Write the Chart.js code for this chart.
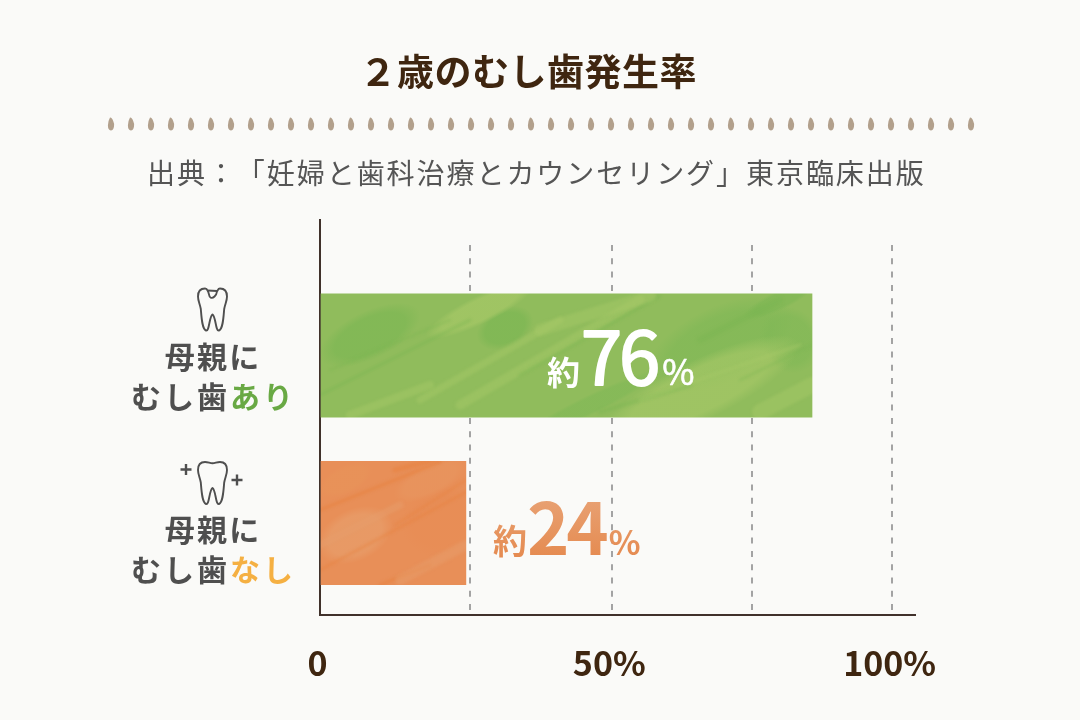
<!DOCTYPE html>
<html lang="ja">
<head>
<meta charset="utf-8">
<title>2歳のむし歯発生率</title>
<style>
html,body{margin:0;padding:0;background:#fafaf8;width:1080px;height:720px;overflow:hidden}
canvas{display:block}
</style>
<script src="https://cdn.jsdelivr.net/npm/chart.js@4"></script>
</head>
<body>
<canvas id="c" width="1080" height="720"></canvas>
<script>
const chartTitle = "２歳のむし歯発生率";
const sourceParts = ["出典：", "「妊婦と歯科治療とカウンセリング」", "東京臨床出版"];
const categories = ["母親にむし歯あり", "母親にむし歯なし"];
const barValues = [86, 25.5];
const valueLabels = ["76", "24"];
const tickValues = [0, 26.2, 51, 75.5, 100];
const tickLabels = ["0", "", "50%", "", "100%"];
const labelLine1 = ["母親に", "母親に"];
const labelLine2 = ["むし歯", "むし歯"];
const labelAccent = ["あり", "なし"];

const FONT = '"Noto Sans CJK JP"';
const BROWN = "#3f2610", GREY = "#4f4f4f";

function texture(base, strokes, blobs) {
  const cv = document.createElement("canvas");
  cv.width = 1080; cv.height = 720;
  const g = cv.getContext("2d");
  g.fillStyle = base; g.fillRect(0, 0, 1080, 720);
  blobs.forEach(([x, y, rx, ry, col]) => {
    const r = g.createRadialGradient(0, 0, 0, 0, 0, 1);
    r.addColorStop(0, col); r.addColorStop(.7, col); r.addColorStop(1, col.replace(/[\d.]+\)$/, "0)"));
    g.save(); g.translate(x, y); g.rotate(-0.45); g.scale(rx, ry);
    g.fillStyle = r; g.beginPath(); g.arc(0, 0, 1, 0, 7); g.fill(); g.restore();
  });
  g.lineCap = "round";
  g.filter = "blur(1.6px)";
  strokes.forEach(([x1, y1, x2, y2, w, col]) => {
    g.strokeStyle = col; g.lineWidth = w;
    g.beginPath(); g.moveTo(x1, y1); g.lineTo(x2, y2); g.stroke();
  });
  g.filter = "none";
  return g.createPattern(cv, "no-repeat");
}
const LG = "rgba(170,202,104,.42)", DG = "rgba(122,182,80,.42)";
const greenFill = texture("#90bc5c", [
  [320,395,470,320,3,DG],[330,370,450,320,2,DG],[420,400,560,320,7,LG],[460,405,640,300,9,LG],
  [520,375,660,296,3,DG],[540,330,650,296,12,LG],[600,412,690,385,4,DG],[640,400,800,345,3,LG],
  [740,380,812,345,2,DG],[700,340,780,300,6,DG],[760,412,812,385,16,LG],[350,415,430,385,8,LG]
], [
  [370,335,55,24,"rgba(122,182,82,.6)"],[505,328,30,20,"rgba(122,182,82,.65)"],
  [480,310,60,14,"rgba(170,202,104,.6)"],[720,345,80,38,"rgba(128,184,86,.65)"],
  [790,340,30,34,"rgba(128,184,86,.6)"],[700,390,110,30,"rgba(165,199,102,.7)"],
  [780,300,40,10,"rgba(122,182,82,.5)"],[590,405,80,10,"rgba(128,184,86,.6)"]
]);
const LO = "rgba(232,158,108,.5)", DO = "rgba(232,128,60,.5)";
const orangeFill = texture("#e88f58", [
  [320,510,440,462,3,DO],[395,470,470,450,5,DO],[395,525,466,480,2,DO],[320,570,470,490,2,DO],
  [380,585,430,565,3,DO],[320,545,400,505,7,LO],[400,580,466,545,10,LO]
], [
  [355,535,40,26,"rgba(232,162,112,.55)"],[440,520,40,36,"rgba(232,140,84,.5)"],
  [430,480,40,16,"rgba(232,150,96,.6)"],[345,480,30,14,"rgba(232,150,90,.4)"]
]);
const orangeText = (() => {
  const cv = document.createElement("canvas"); cv.width = 1080; cv.height = 720;
  const g = cv.getContext("2d");
  const lg = g.createLinearGradient(0, 498, 0, 560);
  lg.addColorStop(0, "#e8a173"); lg.addColorStop(1, "#e58a4f");
  g.fillStyle = lg; g.fillRect(0, 0, 1080, 720);
  return g.createPattern(cv, "no-repeat");
})();

function text(ctx, s, x, y, font, color, spacing, embolden) {
  ctx.font = font; ctx.fillStyle = color; ctx.letterSpacing = (spacing || 0) + "px";
  ctx.textAlign = "left"; ctx.textBaseline = "alphabetic";
  ctx.fillText(s, x, y);
  if (embolden) { ctx.strokeStyle = color; ctx.lineWidth = embolden; ctx.lineJoin = "round"; ctx.strokeText(s, x, y); }
  const w = ctx.measureText(s).width;
  ctx.letterSpacing = "0px";
  return w;
}
function centred(ctx, s, cx, y, font, color, spacing) {
  ctx.font = font; ctx.letterSpacing = (spacing || 0) + "px";
  const w = ctx.measureText(s).width - (spacing || 0);
  ctx.letterSpacing = "0px";
  text(ctx, s, cx - w / 2, y, font, color, spacing);
}
function tooth(ctx, x, y, cavity) {
  ctx.save(); ctx.translate(x, y);
  ctx.strokeStyle = GREY; ctx.lineWidth = 1.9; ctx.lineJoin = "round";
  const p = new Path2D(
    "M7 .5C2.500 .5 0 3.500 0 8.500C0 13 2 16 2.800 21C3.500 29 4 41 8 42.500C11.500 43.500 11 29 14.500 26.500" +
    "C18 29 17.500 43.500 21 42.500C25 41 25.500 29 26.200 21C27 16 29 13 29 8.500C29 3.500 26.500 .5 22 .5" +
    (cavity ? "C20 .5 20 2 19 3.500C18.500 7.500 15 11 12.500 9.500C10.500 8.500 11.500 5 9.500 2.500C9 1 8 .5 7 .5Z"
            : "C19 .5 17 1.800 14.500 1.800C12 1.800 10 .5 7 .5Z"));
  ctx.stroke(p);
  if (cavity) { ctx.beginPath(); ctx.moveTo(9.5, 2.5); ctx.lineTo(19, 3); ctx.stroke(); }
  ctx.restore();
}
function plus(ctx, cx, cy) {
  ctx.save(); ctx.strokeStyle = GREY; ctx.lineWidth = 2.4;
  ctx.beginPath(); ctx.moveTo(cx - 5.5, cy); ctx.lineTo(cx + 5.5, cy);
  ctx.moveTo(cx, cy - 5.5); ctx.lineTo(cx, cy + 5.5); ctx.stroke(); ctx.restore();
}
function ruleDot(ctx, cx, cy) {
  ctx.beginPath();
  ctx.moveTo(cx - 1, cy - 6.6);
  ctx.quadraticCurveTo(cx + 1, cy - 6.8, cx + 2.2, cy - 3);
  ctx.quadraticCurveTo(cx + 3.6, cy, cx + 3, cy + 2.5);
  ctx.quadraticCurveTo(cx + 2.4, cy + 6.4, cx - .2, cy + 6.6);
  ctx.quadraticCurveTo(cx - 3, cy + 6, cx - 3.1, cy + 1.5);
  ctx.quadraticCurveTo(cx - 3.1, cy - 3, cx - 1, cy - 6.6);
  ctx.fill();
}

const layoutPlugin = {
  id: "layoutPlugin",
  afterLayout(chart) {
    const y = chart.scales.y;
    y.top = 220;
    y._startPixel = 271.75; y._endPixel = 606.75; y._length = 335;
  }
};
const decorPlugin = {
  id: "decorPlugin",
  afterDraw(chart) {
    const ctx = chart.ctx, y = chart.scales.y;
    ctx.save();
    centred(ctx, chartTitle, 528, 86, `700 37px ${FONT}`, BROWN, .5);
    ctx.fillStyle = "#b2a08c";
    for (let i = 0; i < 44; i++) ruleDot(ctx, 111 + i * 20, 124);
    let sx = 147;
    sourceParts.forEach(s => { sx += text(ctx, s, sx, 184, `400 28px ${FONT}`, "#555555", 1.95); });
    const accents = ["#69a944", "#f5b042"];
    const tops = [0, 5.5];
    categories.forEach((c, i) => {
      const cy = y.getPixelForValue(i);
      const fy = `700 30px ${FONT}`;
      centred(ctx, labelLine1[i], 212, cy + tops[i] + 12.5, fy, GREY, 2.2);
      const w = text(ctx, labelLine2[i], 131, cy + tops[i] + 52.5, fy, GREY, 3);
      text(ctx, labelAccent[i], 131 + w, cy + tops[i] + 52.5, fy, accents[i], 3);
    });
    tooth(ctx, 198, 288, true);
    tooth(ctx, 198, 461.5, false);
    plus(ctx, 186, 469.5); plus(ctx, 237, 480);
    const bars = chart.getDatasetMeta(0).data;
    const g = bars[0];
    let x = g.x - 265;
    x += text(ctx, "約", x, g.y + 29, `700 33px ${FONT}`, "#ffffff");
    x += text(ctx, valueLabels[0], x + 1, g.y + 29.5, `400 74px ${FONT}`, "#ffffff", -3, 2);
    text(ctx, "%", x + 6, g.y + 29.5, `400 35px ${FONT}`, "#ffffff", 0, .6);
    const o = bars[1];
    x = o.x + 27;
    x += text(ctx, "約", x, o.y + 31, `700 34px ${FONT}`, orangeText);
    x += text(ctx, valueLabels[1], x, o.y + 32, `700 72px ${FONT}`, orangeText, -3);
    text(ctx, "%", x + 3, o.y + 32, `700 33px ${FONT}`, orangeText);
    ctx.restore();
  }
};

new Chart(document.getElementById("c"), {
  type: "bar",
  data: {
    labels: categories,
    datasets: [{
      data: barValues,
      backgroundColor: [greenFill, orangeFill],
      borderWidth: 0,
      barThickness: 123.5,
      clip: false
    }]
  },
  options: {
    indexAxis: "y",
    responsive: false,
    animation: false,
    devicePixelRatio: 1,
    layout: { padding: { top: 245, right: 165, bottom: 0, left: 0 } },
    plugins: { legend: { display: false }, tooltip: { enabled: false } },
    scales: {
      x: {
        type: "linear", min: 0, max: 104,
        afterFit(s) { s.height = 105; },
        afterBuildTicks(s) { s.ticks = tickValues.map(v => ({ value: v })); },
        grid: {
          drawTicks: false,
          lineWidth: 2,
          color: c => (c.tick && c.tick.value === 0 ? "rgba(0,0,0,0)" : "#a3a3a3")
        },
        border: { display: true, color: "#40312b", width: 2, dash: [6, 7.3], dashOffset: 0 },
        ticks: {
          autoSkip: false, maxRotation: 0, minRotation: 0, padding: 28, labelOffset: -2.5,
          color: BROWN, font: { family: FONT, size: 34, weight: "700" },
          callback: (v, i) => tickLabels[i]
        }
      },
      y: {
        type: "category",
        afterFit(s) { s.width = 320; },
        grid: { display: false },
        border: { display: true, color: "#40312b", width: 2 },
        ticks: { display: false }
      }
    }
  },
  plugins: [layoutPlugin, decorPlugin]
});
</script>
</body>
</html>
